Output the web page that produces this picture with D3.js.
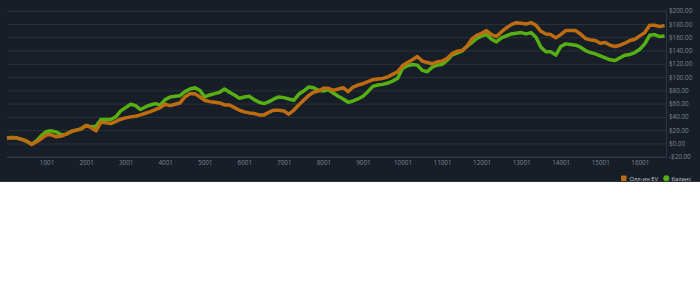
<!DOCTYPE html>
<html>
<head>
<meta charset="utf-8">
<script src="https://cdn.jsdelivr.net/npm/d3@7"></script>
<style>
  html, body { margin: 0; padding: 0; background: #fff; }
  svg { display: block; }
</style>
</head>
<body>
<div id="chart"></div>
<script>
// hands are sampled every 125 hands, starting at hand 1
const handStep = 125;

const allInEV = [
  8, 9, 8.5, 6, 3.5, -1.5, 2.5, 7.5, 13, 13,
  10, 11, 14, 18, 20, 22, 27, 24, 19, 32,
  31, 30, 33, 36.5, 38.5, 40, 41, 43, 45.5, 48,
  51, 54, 59, 57, 59, 61, 70, 75, 75, 70,
  65, 63, 62, 61, 58, 58, 54, 50, 47.5, 46,
  45, 43, 43, 47, 50, 50, 49, 44, 50, 58,
  65, 72, 77, 79, 83, 83, 80, 82, 84, 78,
  85, 88, 90, 93, 96, 97, 98, 100, 104, 108,
  117, 122, 126, 131, 124, 122, 120, 123, 124, 128,
  135, 139, 140, 146, 157, 163, 166, 170, 164, 161,
  168, 174, 179, 182, 181, 180, 182, 178, 169, 165,
  164, 159, 164, 170, 170, 170, 165, 158, 156, 155,
  151, 152, 148, 146, 148, 151, 155, 157, 162, 167,
  178, 178, 176, 177.5
];

const balance = [
  8, 9, 8, 6, 3, -1, 4, 12, 18, 19,
  17, 13, 14, 18, 20, 22, 27, 25, 26, 36,
  36, 36, 40, 49, 54, 59, 57, 51, 55, 58,
  60, 58, 66, 70, 71, 72, 78, 82, 84, 80,
  70, 73, 75, 77, 82, 77, 73, 68, 70, 71,
  66, 62, 60, 63, 67, 70, 69, 67, 65, 74,
  79, 85, 84, 80, 79, 81, 76, 71, 67, 62,
  64, 67, 71, 78, 86, 88, 89, 91, 94, 98,
  113, 117, 119, 118, 110, 108, 115, 118, 119, 125,
  133, 136, 139, 146, 152, 158, 162, 164, 157, 153,
  159, 162, 165, 166, 167, 165, 167, 160, 145, 138,
  138, 133, 146, 150, 149, 148, 145, 140, 137, 135,
  132, 129, 126, 125, 129, 133, 134, 137, 142, 150,
  163, 164, 161, 162
];

const xTicks = [1001, 2001, 3001, 4001, 5001, 6001, 7001, 8001, 9001, 10001, 11001, 12001, 13001, 14001, 15001, 16001];
const yTicks = [-20, 0, 20, 40, 60, 80, 100, 120, 140, 160, 180, 200];
const seriesNames = ['Олл-ин EV', 'баланс'];

const width = 700;
const height = 286;
const panelHeight = 182;
const font = '"Open Sans", "Noto Sans", sans-serif';

const svg = d3.select('#chart')
  .append('svg')
  .attr('width', width)
  .attr('height', height);

svg.append('rect')
  .attr('width', width)
  .attr('height', panelHeight)
  .attr('fill', '#171e27');

svg.append('line')
  .attr('x1', 0).attr('x2', width)
  .attr('y1', panelHeight - 0.5).attr('y2', panelHeight - 0.5)
  .attr('stroke', '#2b323c');

const x = d3.scaleLinear()
  .domain([1, 16663])
  .range([7, 666]);

const y = d3.scaleLinear()
  .domain([-20, 200])
  .range([156.7, 10.7]);

// grid + right axis
const yAxis = svg.append('g')
  .attr('transform', 'translate(666,0)')
  .call(d3.axisRight(y)
    .tickValues(yTicks)
    .tickSize(-(666 - 7))
    .tickPadding(3)
    .tickFormat(d => (d < 0 ? '-$' : '$') + Math.abs(d).toFixed(2)));

yAxis.select('.domain')
  .attr('stroke', '#2e353f');
yAxis.selectAll('.tick line')
  .attr('stroke', d => d === -20 ? '#363d48' : '#2a313b')
  .attr('stroke-width', 1);
yAxis.selectAll('.tick text')
  .attr('fill', '#80878f')
  .attr('font-family', font)
  .attr('font-size', '6.3px');

const xAxis = svg.append('g')
  .attr('transform', 'translate(0,156.7)')
  .call(d3.axisBottom(x)
    .tickValues(xTicks)
    .tickSize(0)
    .tickPadding(4)
    .tickFormat(d => d));

xAxis.select('.domain').remove();
xAxis.selectAll('.tick text')
  .attr('fill', '#80878f')
  .attr('font-family', font)
  .attr('font-size', '6.3px');

const line = d3.line()
  .x((d, i) => x(1 + i * handStep))
  .y(d => y(d));

svg.append('path')
  .datum(balance)
  .attr('d', line)
  .attr('fill', 'none')
  .attr('stroke', '#56b013')
  .attr('stroke-width', 3.5)
  .attr('stroke-linejoin', 'round');

svg.append('path')
  .datum(allInEV)
  .attr('d', line)
  .attr('fill', 'none')
  .attr('stroke', '#bd6d10')
  .attr('stroke-width', 3.5)
  .attr('stroke-linejoin', 'round');

// legend
const legend = svg.append('g')
  .attr('font-family', font)
  .attr('font-size', '5.8px')
  .attr('fill', '#c9cdd2');

legend.append('rect')
  .attr('x', 621).attr('y', 175.5)
  .attr('width', 5.5).attr('height', 5.5)
  .attr('rx', 1)
  .attr('fill', '#bd6d10');
legend.append('text')
  .attr('x', 629.5).attr('y', 180.5)
  .text(seriesNames[0]);

legend.append('circle')
  .attr('cx', 666.3).attr('cy', 178.2)
  .attr('r', 3)
  .attr('fill', '#56b013');
legend.append('text')
  .attr('x', 671.5).attr('y', 180.5)
  .text(seriesNames[1]);
</script>
</body>
</html>
